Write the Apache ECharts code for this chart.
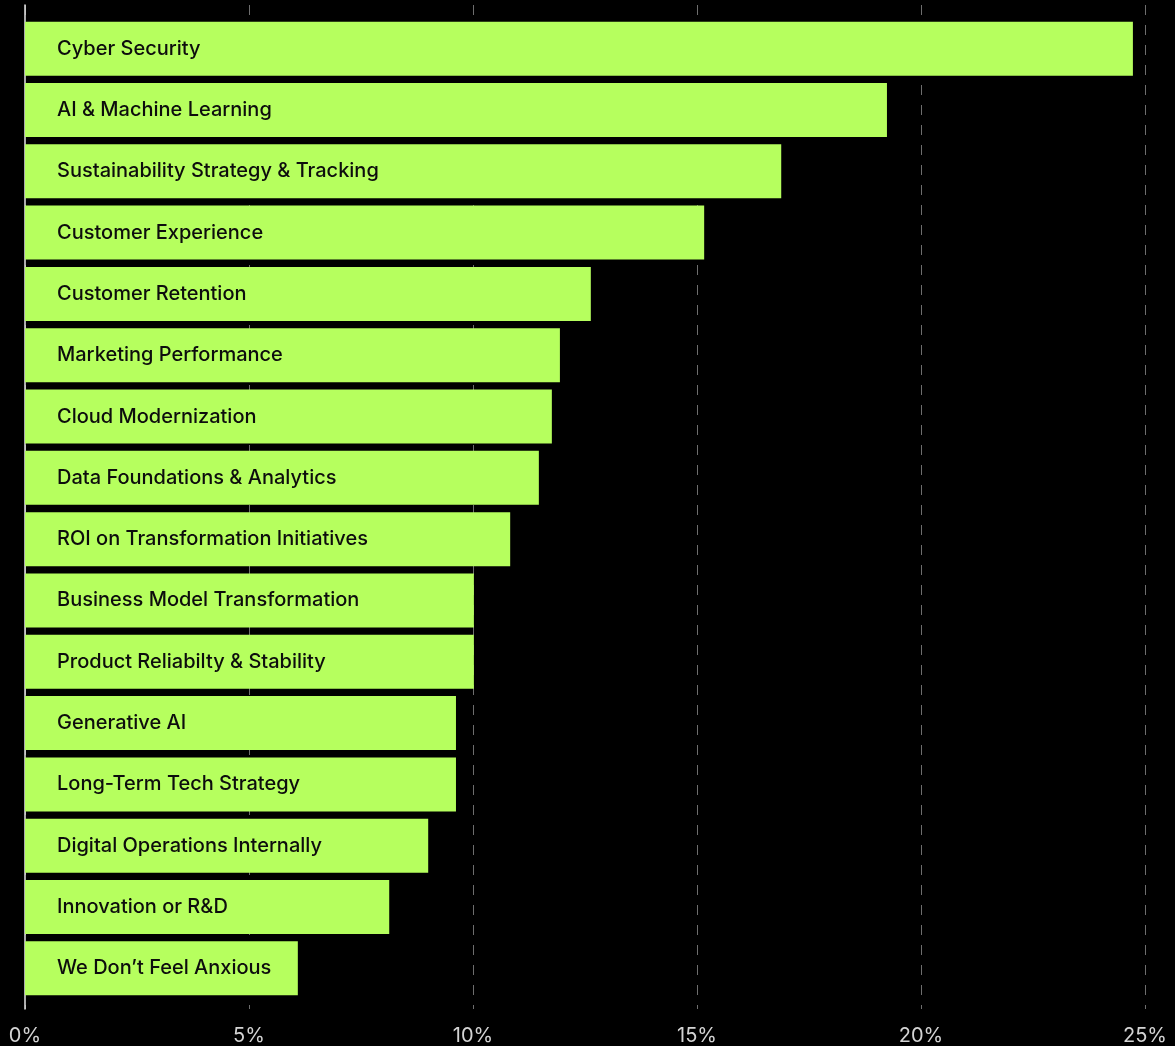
<!DOCTYPE html>
<html>
<head>
<meta charset="utf-8">
<script src="https://cdn.jsdelivr.net/npm/echarts@6/dist/echarts.min.js"></script>
<style>
  html, body { margin: 0; padding: 0; background: #000; }
  #chart { width: 1175px; height: 1046px; }
</style>
</head>
<body>
<div id="chart"></div>
<script>
const categories = [
  'Cyber Security',
  'AI & Machine Learning',
  'Sustainability Strategy & Tracking',
  'Customer Experience',
  'Customer Retention',
  'Marketing Performance',
  'Cloud Modernization',
  'Data Foundations & Analytics',
  'ROI on Transformation Initiatives',
  'Business Model Transformation',
  'Product Reliabilty & Stability',
  'Generative AI',
  'Long-Term Tech Strategy',
  'Digital Operations Internally',
  'Innovation or R&D',
  'We Don\u2019t Feel Anxious'
]
const shares = [24.73, 19.24, 16.88, 15.16, 12.63, 11.94, 11.76, 11.47, 10.83, 10.02, 10.02, 9.62, 9.62, 9.0, 8.13, 6.09]
const xTicks = [0, 5, 10, 15, 20, 25]

const chart = echarts.init(document.getElementById('chart'))

const option = {
  backgroundColor: '#000',
  animation: false,
  grid: [
    // gridlines + axis labels (reach a bit past the bars)
    { left: 25, right: 30, top: 5, bottom: 36 },
    // bars
    { left: 25, right: 30, top: 18, bottom: 47 }
  ],
  xAxis: [
    {
      gridIndex: 0,
      type: 'value',
      min: xTicks[0],
      max: xTicks[xTicks.length - 1],
      interval: 5,
      axisLine: { show: false },
      axisTick: { show: false },
      axisLabel: {
        color: '#d4d4d4',
        fontSize: 20,
        fontFamily: 'Inter',
        margin: 17,
        formatter: v => v + '%'
      },
      splitLine: {
        show: true,
        lineStyle: { color: '#6e6e6e', type: [10, 10], width: 1 }
      }
    },
    {
      gridIndex: 1,
      type: 'value',
      min: 0,
      max: 25,
      show: false
    }
  ],
  yAxis: [
    {
      gridIndex: 0,
      type: 'value',
      min: 0,
      max: 1,
      axisLine: { show: true, lineStyle: { color: '#e6e6e6', width: 1.5 } },
      axisTick: { show: false },
      axisLabel: { show: false },
      splitLine: { show: false }
    },
    {
      gridIndex: 1,
      type: 'category',
      inverse: true,
      data: categories,
      show: false
    }
  ],
  series: [
    {
      type: 'bar',
      xAxisIndex: 1,
      yAxisIndex: 1,
      data: shares,
      barWidth: 54,
      itemStyle: { color: '#b6ff5e' },
      label: {
        show: true,
        position: 'insideLeft',
        distance: 32,
        color: '#0d0d0d',
        fontSize: 20,
        fontWeight: 500,
        fontFamily: 'Inter',
        formatter: p => p.name
      }
    }
  ]
}

chart.setOption(option)
</script>
</body>
</html>
